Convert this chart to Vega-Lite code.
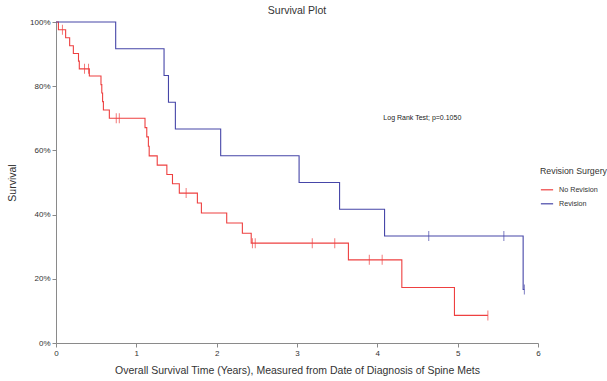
{
  "$schema": "https://vega.github.io/schema/vega-lite/v6.json",
  "width": 482,
  "height": 321,
  "autosize": {"type": "none"},
  "padding": {"left": 56, "top": 22, "right": 69, "bottom": 38},
  "background": "white",
  "config": {
    "font": "Liberation Sans",
    "view": {"stroke": null},
    "axis": {"grid": false, "domainColor": "#8a8a8a", "tickColor": "#8a8a8a", "labelColor": "#333333", "titleColor": "#333333", "labelFontSize": 8, "titleFontSize": 10.5, "titleFontWeight": "normal", "tickSize": 4, "labelFlush": false}
  },
  "title": {"text": "Survival Plot", "fontSize": 10.5, "fontWeight": "normal", "color": "#333333", "anchor": "middle", "offset": 2},
  "datasets": {
    "km": [
      {"group": "No Revision", "time": 0, "surv": 100, "c": 0},
      {"group": "No Revision", "time": 0.03, "surv": 97.6, "c": 0},
      {"group": "No Revision", "time": 0.08, "surv": 97.6, "c": 1},
      {"group": "No Revision", "time": 0.12, "surv": 95.1, "c": 0},
      {"group": "No Revision", "time": 0.17, "surv": 92.6, "c": 0},
      {"group": "No Revision", "time": 0.216, "surv": 90.2, "c": 0},
      {"group": "No Revision", "time": 0.28, "surv": 87.8, "c": 0},
      {"group": "No Revision", "time": 0.29, "surv": 85.4, "c": 0},
      {"group": "No Revision", "time": 0.355, "surv": 85.4, "c": 1},
      {"group": "No Revision", "time": 0.405, "surv": 85.4, "c": 1},
      {"group": "No Revision", "time": 0.415, "surv": 83.2, "c": 0},
      {"group": "No Revision", "time": 0.56, "surv": 80.5, "c": 0},
      {"group": "No Revision", "time": 0.57, "surv": 77.9, "c": 0},
      {"group": "No Revision", "time": 0.58, "surv": 75.2, "c": 0},
      {"group": "No Revision", "time": 0.59, "surv": 72.6, "c": 0},
      {"group": "No Revision", "time": 0.664, "surv": 70.0, "c": 0},
      {"group": "No Revision", "time": 0.75, "surv": 70.0, "c": 1},
      {"group": "No Revision", "time": 0.788, "surv": 70.0, "c": 1},
      {"group": "No Revision", "time": 1.108, "surv": 67.1, "c": 0},
      {"group": "No Revision", "time": 1.13, "surv": 64.2, "c": 0},
      {"group": "No Revision", "time": 1.15, "surv": 61.3, "c": 0},
      {"group": "No Revision", "time": 1.16, "surv": 58.3, "c": 0},
      {"group": "No Revision", "time": 1.26, "surv": 55.4, "c": 0},
      {"group": "No Revision", "time": 1.38, "surv": 52.5, "c": 0},
      {"group": "No Revision", "time": 1.45, "surv": 49.6, "c": 0},
      {"group": "No Revision", "time": 1.535, "surv": 46.7, "c": 0},
      {"group": "No Revision", "time": 1.62, "surv": 46.7, "c": 1},
      {"group": "No Revision", "time": 1.76, "surv": 43.6, "c": 0},
      {"group": "No Revision", "time": 1.81, "surv": 40.5, "c": 0},
      {"group": "No Revision", "time": 2.125, "surv": 37.4, "c": 0},
      {"group": "No Revision", "time": 2.32, "surv": 34.2, "c": 0},
      {"group": "No Revision", "time": 2.43, "surv": 31.1, "c": 0},
      {"group": "No Revision", "time": 2.445, "surv": 31.1, "c": 1},
      {"group": "No Revision", "time": 2.48, "surv": 31.1, "c": 1},
      {"group": "No Revision", "time": 3.19, "surv": 31.1, "c": 1},
      {"group": "No Revision", "time": 3.47, "surv": 31.1, "c": 1},
      {"group": "No Revision", "time": 3.64, "surv": 25.9, "c": 0},
      {"group": "No Revision", "time": 3.9, "surv": 25.9, "c": 1},
      {"group": "No Revision", "time": 4.06, "surv": 25.9, "c": 1},
      {"group": "No Revision", "time": 4.305, "surv": 17.3, "c": 0},
      {"group": "No Revision", "time": 4.96, "surv": 8.6, "c": 0},
      {"group": "No Revision", "time": 5.376, "surv": 8.6, "c": 1},
      {"group": "Revision", "time": 0, "surv": 100, "c": 0},
      {"group": "Revision", "time": 0.743, "surv": 91.67, "c": 0},
      {"group": "Revision", "time": 1.345, "surv": 83.33, "c": 0},
      {"group": "Revision", "time": 1.4, "surv": 75.0, "c": 0},
      {"group": "Revision", "time": 1.486, "surv": 66.67, "c": 0},
      {"group": "Revision", "time": 2.05, "surv": 58.33, "c": 0},
      {"group": "Revision", "time": 3.026, "surv": 50.0, "c": 0},
      {"group": "Revision", "time": 3.53, "surv": 41.67, "c": 0},
      {"group": "Revision", "time": 4.09, "surv": 33.33, "c": 0},
      {"group": "Revision", "time": 4.64, "surv": 33.33, "c": 1},
      {"group": "Revision", "time": 5.575, "surv": 33.33, "c": 1},
      {"group": "Revision", "time": 5.815, "surv": 16.67, "c": 0},
      {"group": "Revision", "time": 5.83, "surv": 16.67, "c": 1}
    ],
    "note": [
      {"time": 4.56, "surv": 70.1, "label": "Log Rank Test; p=0.1050"}
    ]
  },
  "layer": [
    {
      "data": {"name": "km"},
      "mark": {"type": "line", "interpolate": "step-after", "strokeWidth": 1.1},
      "encoding": {
        "x": {"field": "time", "type": "quantitative", "scale": {"domain": [0, 6], "nice": false},
              "axis": {"values": [0, 1, 2, 3, 4, 5, 6], "format": "d", "title": "Overall Survival Time (Years), Measured from Date of Diagnosis of Spine Mets", "titlePadding": 8}},
        "y": {"field": "surv", "type": "quantitative", "scale": {"domain": [0, 100], "nice": false},
              "axis": {"values": [0, 20, 40, 60, 80, 100], "labelExpr": "datum.value + '%'", "title": "Survival", "titlePadding": 12}},
        "color": {"field": "group", "type": "nominal",
                  "scale": {"domain": ["No Revision", "Revision"], "range": ["#ee4040", "#4646a8"]},
                  "legend": {"title": "Revision Surgery", "orient": "none", "legendX": 484, "legendY": 145,
                             "titleFontSize": 8.8, "titleFontWeight": "normal", "titleColor": "#333333",
                             "labelFontSize": 7.2, "labelColor": "#333333", "symbolType": "stroke",
                             "symbolStrokeWidth": 1.2, "symbolSize": 150, "rowPadding": 3, "titlePadding": 7, "labelOffset": 5}},
        "order": {"field": "time", "type": "quantitative"}
      }
    },
    {
      "data": {"name": "km"},
      "transform": [{"filter": "datum.c == 1"}],
      "mark": {"type": "tick", "orient": "vertical", "size": 10, "thickness": 1},
      "encoding": {
        "x": {"field": "time", "type": "quantitative"},
        "y": {"field": "surv", "type": "quantitative"},
        "color": {"field": "group", "type": "nominal", "legend": null}
      }
    },
    {
      "data": {"name": "note"},
      "mark": {"type": "text", "fontSize": 7, "color": "#222222", "align": "center", "baseline": "middle"},
      "encoding": {
        "x": {"field": "time", "type": "quantitative"},
        "y": {"field": "surv", "type": "quantitative"},
        "text": {"field": "label"}
      }
    }
  ],
  "resolve": {"legend": {"color": "independent"}}
}
